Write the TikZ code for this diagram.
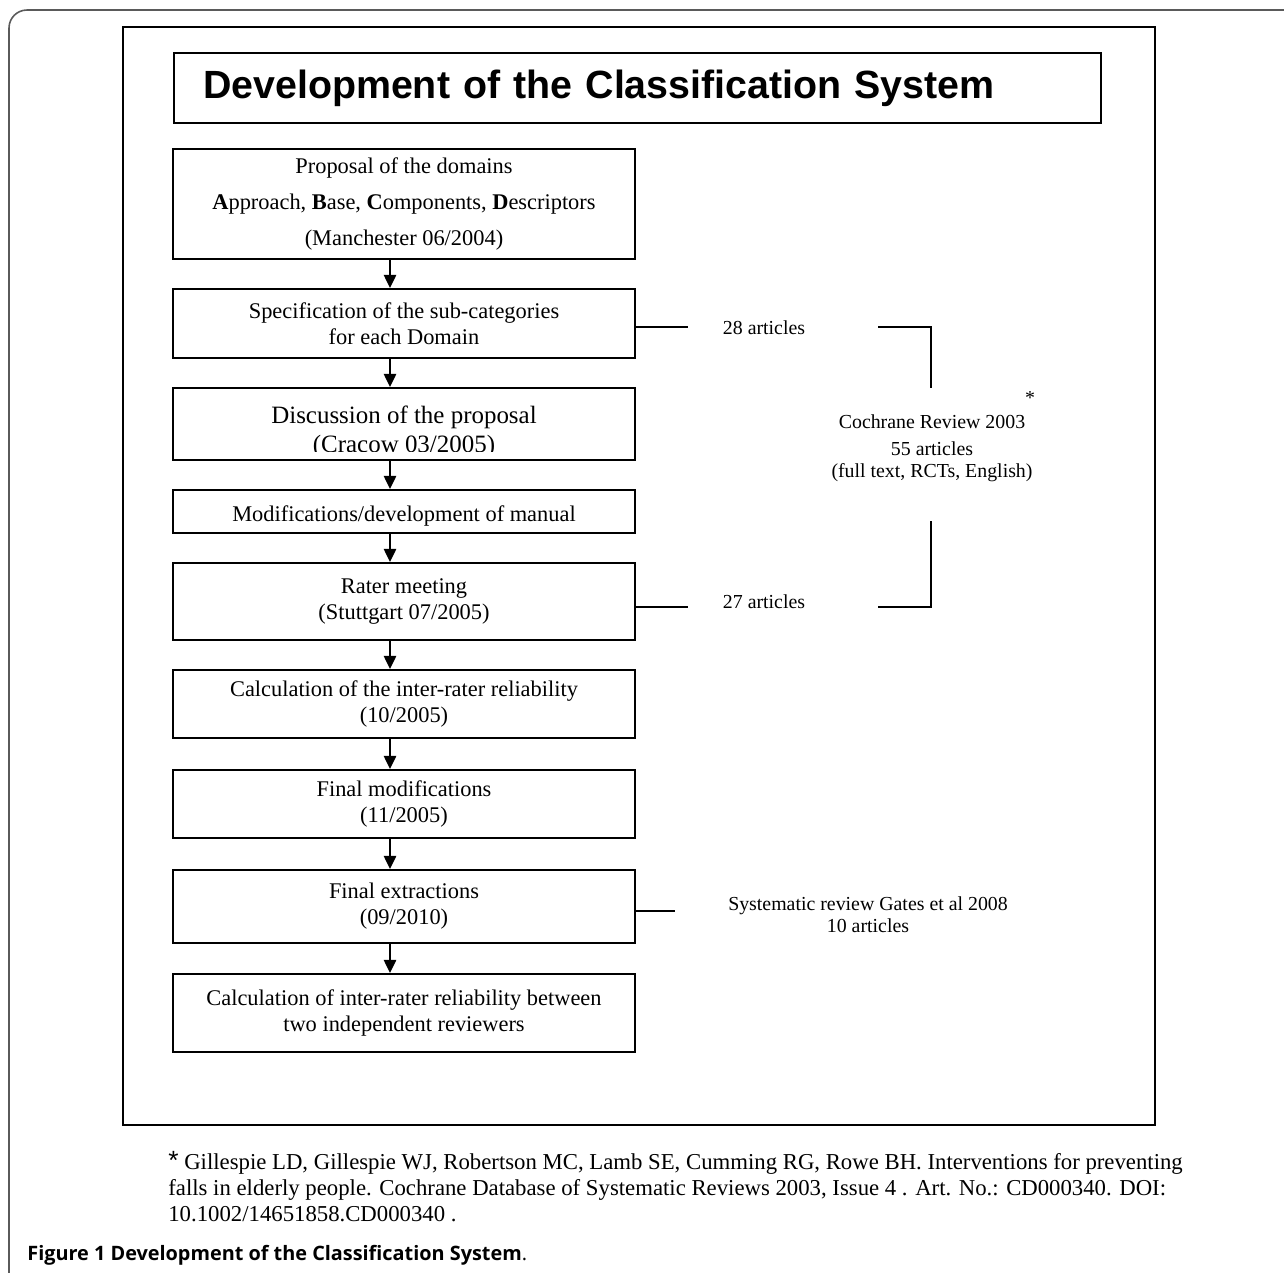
\documentclass[tikz,border=0pt]{standalone}
\usepackage{fontspec}
\setmainfont{Liberation Serif}
\newfontfamily\titlefont{Liberation Sans}
\newfontfamily\capfont{Open Sans}
\usetikzlibrary{arrows.meta,calc}
\def\pxu{0.02cm}
\definecolor{framegray}{RGB}{90,90,90}

\tikzset{
  stepbox/.style={draw, line width=1.1pt, minimum width=462*\pxu, inner sep=0pt, align=center,
    font=\fontsize{12.75}{14.8}\selectfont, execute at begin node={\rule{0pt}{13.8pt}}},
  sidetext/.style={align=center, font=\fontsize{11.3}{12.6}\selectfont},
  flowarrow/.style={line width=1.1pt, -{Triangle[width=7pt,length=7.5pt]}},
  sideline/.style={line width=1.1pt}
}

\begin{document}
\begin{tikzpicture}[x=0.02cm, y=-0.02cm]
  \useasboundingbox (0,0) rectangle (1284,1272);
  % frames
  \draw[framegray, line width=0.9pt, rounded corners=0.36cm] (9,10) rectangle (1330,1330);
  \draw[line width=1.1pt] (123,27) rectangle (1155,1125);
  \node[draw, line width=1.1pt, minimum width=927*\pxu, minimum height=70*\pxu, text width=869*\pxu,
    inner xsep=24*\pxu, align=left, font=\titlefont\bfseries\fontsize{22.4}{24}\selectfont] (title) at (637.5,88)
    {Development of the Classification System};

  % steps
  \node[stepbox, minimum height=110*\pxu, font=\fontsize{12.75}{20.6}\selectfont] (prop) at (404,204)
    {Proposal of the domains\\ \textbf{A}pproach, \textbf{B}ase, \textbf{C}omponents, \textbf{D}escriptors\\ (Manchester 06/2004)};
  \node[stepbox, minimum height=69*\pxu] (spec) at (404,323.5)
    {Specification of the sub-categories\\ for each Domain};
  \node[stepbox, minimum height=72*\pxu] (disc) at (404,424) {};
  \begin{scope}
    \clip (disc.north west) rectangle ($(disc.south east)+(0,-9)$);
    \node[align=center, inner sep=0pt, font=\fontsize{14.2}{16.8}\selectfont] (disctext) at (404,432)
      {Discussion of the proposal\\ (Cracow 03/2005)};
  \end{scope}
  \node[stepbox, minimum height=43*\pxu] (modif) at (404,511.5) {Modifications/development of manual};
  \node[stepbox, minimum height=77*\pxu] (rater) at (404,601.5) {Rater meeting\\ (Stuttgart 07/2005)};
  \node[stepbox, minimum height=68*\pxu] (calc) at (404,704) {Calculation of the inter-rater reliability\\ (10/2005)};
  \node[stepbox, minimum height=68*\pxu] (finmod) at (404,804) {Final modifications\\ (11/2005)};
  \node[stepbox, minimum height=73*\pxu] (finext) at (404,906.5) {Final extractions\\ (09/2010)};
  \node[stepbox, minimum height=78*\pxu] (reliab) at (404,1013)
    {Calculation of inter-rater reliability between\\ two independent reviewers};

  \foreach \a/\b in {prop/spec, spec/disc, disc/modif, modif/rater, rater/calc, calc/finmod, finmod/finext, finext/reliab}
    \draw[flowarrow] ($(\a.south)+(-14,0)$) -- ($(\b.north)+(-14,0)$);

  % sources
  \node[sidetext] (art28) at (764,328) {28 articles};
  \node[sidetext] (art27) at (764,602) {27 articles};
  \node[sidetext] (cochrane) at (932,437)
    {Cochrane Review 2003\rlap{\raisebox{1.2em}{*}}\\[2.7pt] 55 articles\\ (full text, RCTs, English)};
  \node[sidetext] (gates) at (868,915) {Systematic review Gates et al 2008\\ 10 articles};
  \coordinate (top28) at (878,327);
  \coordinate (bot27) at (878,607);
  \draw[sideline] ($(spec.east)+(0,3.5)$) -- ++(52,0);
  \draw[sideline] ($(rater.east)+(0,5.5)$) -- ++(52,0);
  \draw[sideline] ($(finext.east)+(0,4.5)$) -- ++(39,0);
  \draw[sideline] (top28) -- ++(53,0) -- ++(0,61);
  \draw[sideline] (bot27) -- ++(53,0) -- ++(0,-86);

  % footnote and caption
  \node[anchor=north west, inner sep=0pt, align=left, font=\fontsize{12.95}{14.9}\selectfont] (foot) at (168,1151)
    {{\titlefont\fontsize{15}{15}\selectfont *} Gillespie LD, Gillespie WJ, Robertson MC, Lamb SE, Cumming RG, Rowe BH. Interventions for preventing\\
     falls in elderly people. Cochrane Database of Systematic Reviews 2003, Issue 4 . Art. No.: CD000340. DOI:\\
     10.1002/14651858.CD000340 .};
  \node[anchor=west, inner sep=0pt, font=\capfont\fontsize{11.3}{13}\selectfont] (caption) at (27,1255)
    {\textbf{Figure 1 Development of the Classification System}.};
\end{tikzpicture}
\end{document}
